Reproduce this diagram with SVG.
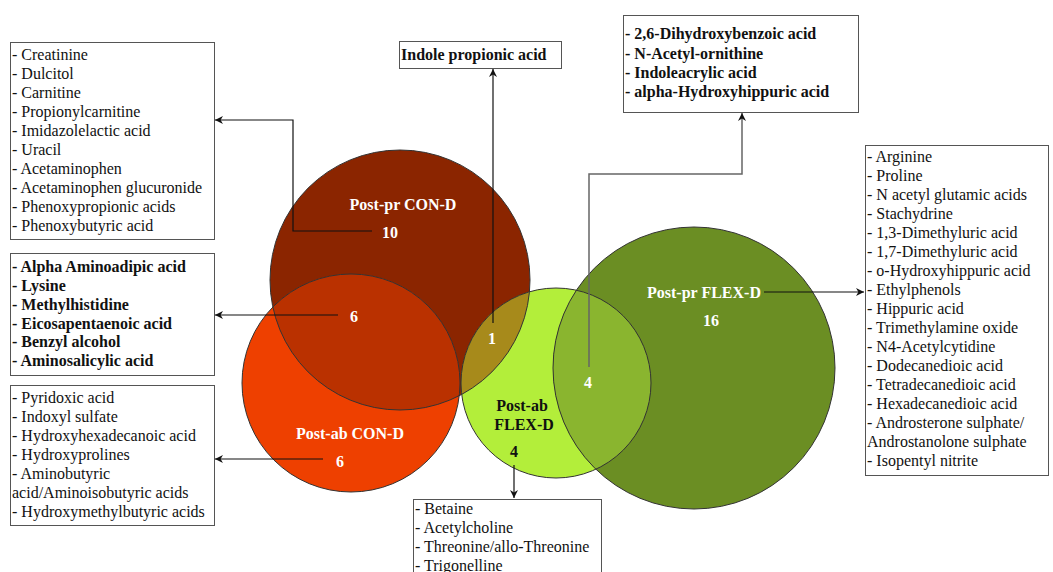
<svg xmlns="http://www.w3.org/2000/svg" width="1053" height="572" viewBox="0 0 1053 572">
<style>
.box{fill:#fff;stroke:#555;stroke-width:1}
.t{font-family:"Liberation Serif","Times New Roman",serif;font-size:16px;fill:#111}
.b{font-weight:bold}
.cl{font-family:"Liberation Serif","Times New Roman",serif;font-size:16px;font-weight:bold;fill:#fff;text-anchor:middle}
.ol{fill:none;stroke:#333;stroke-width:1}
.c{fill:none;stroke:#111;stroke-width:1.2}
.g{fill:none;stroke:#666;stroke-width:1.5}
</style>
<defs>
<marker id="ar" viewBox="0 0 10 10" refX="10" refY="5" markerWidth="8" markerHeight="8" markerUnits="userSpaceOnUse" orient="auto">
<path d="M0,0 L10,5 L0,10 L3,5 z" fill="#111"/>
</marker>
<clipPath id="cpOrange"><circle cx="351" cy="383" r="109"/></clipPath>
<clipPath id="cpLight"><circle cx="556" cy="383" r="95"/></clipPath>
</defs>
<rect width="1053" height="572" fill="#fff"/>

<g id="circles">
<g id="post-pr-con-d"><circle cx="400" cy="280" r="130" fill="#8B2500"/></g>
<g id="post-ab-con-d"><circle cx="351" cy="383" r="109" fill="#EE4000"/></g>
<circle cx="400" cy="280" r="130" fill="#BA3100" clip-path="url(#cpOrange)"/>
<g id="post-ab-flex-d"><circle cx="556" cy="383" r="95" fill="#B3EE3A"/></g>
<circle cx="400" cy="280" r="130" fill="#A78A1B" clip-path="url(#cpLight)"/>
<g id="post-pr-flex-d"><circle cx="694" cy="368" r="141" fill="#6B8E23"/></g>
<circle cx="694" cy="368" r="141" fill="#8AB52F" clip-path="url(#cpLight)"/>
<circle class="ol" cx="400" cy="280" r="130"/>
<circle class="ol" cx="351" cy="383" r="109"/>
<circle class="ol" cx="556" cy="383" r="95"/>
<circle class="ol" cx="694" cy="368" r="141"/>
</g>

<g id="connectors">
<path class="c" d="M372,231 H293 V120 H215" marker-end="url(#ar)"/>
<path class="c" d="M338,315 H215" marker-end="url(#ar)"/>
<path class="c" d="M323,459 H215" marker-end="url(#ar)"/>
<path class="c" d="M493,323 V69" marker-end="url(#ar)"/>
<path class="g" d="M589,367 V174 H742 V113" marker-end="url(#ar)"/>
<path class="c" d="M764,292 H864" marker-end="url(#ar)"/>
<path class="c" d="M514,465 V498" marker-end="url(#ar)"/>
</g>

<g id="circle-labels">
<text class="cl" x="403" y="210">Post-pr CON-D</text>
<text class="cl" x="390" y="238">10</text>
<text class="cl" x="354" y="322">6</text>
<text class="cl" x="492" y="344">1</text>
<text class="cl" x="350" y="439">Post-ab CON-D</text>
<text class="cl" x="340" y="467">6</text>
<text class="cl" x="522" y="411" fill="#111" style="fill:#111">Post-ab</text>
<text class="cl" x="524" y="430" style="fill:#111">FLEX-D</text>
<text class="cl" x="514" y="457" style="fill:#111">4</text>
<text class="cl" x="588" y="388">4</text>
<text class="cl" x="704" y="298">Post-pr FLEX-D</text>
<text class="cl" x="711" y="326">16</text>
</g>

<g id="box-con-pr">
<rect class="box" x="10.5" y="42.5" width="204" height="197"/>
<text class="t" x="12" y="60">- Creatinine</text>
<text class="t" x="12" y="79">- Dulcitol</text>
<text class="t" x="12" y="98">- Carnitine</text>
<text class="t" x="12" y="117">- Propionylcarnitine</text>
<text class="t" x="12" y="136">- Imidazolelactic acid</text>
<text class="t" x="12" y="155">- Uracil</text>
<text class="t" x="12" y="174">- Acetaminophen</text>
<text class="t" x="12" y="193">- Acetaminophen glucuronide</text>
<text class="t" x="12" y="212">- Phenoxypropionic acids</text>
<text class="t" x="12" y="231">- Phenoxybutyric acid</text>
</g>

<g id="box-con-shared">
<rect class="box" x="10.5" y="253.5" width="204" height="122"/>
<text class="t b" x="12" y="272">- Alpha Aminoadipic acid</text>
<text class="t b" x="12" y="291">- Lysine</text>
<text class="t b" x="12" y="310">- Methylhistidine</text>
<text class="t b" x="12" y="329">- Eicosapentaenoic acid</text>
<text class="t b" x="12" y="347">- Benzyl alcohol</text>
<text class="t b" x="12" y="366">- Aminosalicylic acid</text>
</g>

<g id="box-con-ab">
<rect class="box" x="10.5" y="385.5" width="204" height="140"/>
<text class="t" x="12" y="403">- Pyridoxic acid</text>
<text class="t" x="12" y="422">- Indoxyl sulfate</text>
<text class="t" x="12" y="441">- Hydroxyhexadecanoic acid</text>
<text class="t" x="12" y="460">- Hydroxyprolines</text>
<text class="t" x="12" y="479">- Aminobutyric</text>
<text class="t" x="12" y="498">acid/Aminoisobutyric acids</text>
<text class="t" x="12" y="517">- Hydroxymethylbutyric acids</text>
</g>

<g id="box-indole">
<rect class="box" x="399.5" y="41.5" width="162" height="27"/>
<text class="t b" x="401" y="60">Indole propionic acid</text>
</g>

<g id="box-flex-shared">
<rect class="box" x="623.5" y="15.5" width="235" height="97"/>
<text class="t b" x="625" y="39">- 2,6-Dihydroxybenzoic acid</text>
<text class="t b" x="625" y="59">- N-Acetyl-ornithine</text>
<text class="t b" x="625" y="78">- Indoleacrylic acid</text>
<text class="t b" x="625" y="97">- alpha-Hydroxyhippuric acid</text>
</g>

<g id="box-flex-pr">
<rect class="box" x="865.5" y="145.5" width="183" height="330"/>
<text class="t" x="867" y="162">- Arginine</text>
<text class="t" x="867" y="181">- Proline</text>
<text class="t" x="867" y="200">- N acetyl glutamic acids</text>
<text class="t" x="867" y="219">- Stachydrine</text>
<text class="t" x="867" y="238">- 1,3-Dimethyluric acid</text>
<text class="t" x="867" y="257">- 1,7-Dimethyluric acid</text>
<text class="t" x="867" y="276">- o-Hydroxyhippuric acid</text>
<text class="t" x="867" y="295">- Ethylphenols</text>
<text class="t" x="867" y="314">- Hippuric acid</text>
<text class="t" x="867" y="333">- Trimethylamine oxide</text>
<text class="t" x="867" y="352">- N4-Acetylcytidine</text>
<text class="t" x="867" y="371">- Dodecanedioic acid</text>
<text class="t" x="867" y="390">- Tetradecanedioic acid</text>
<text class="t" x="867" y="409">- Hexadecanedioic acid</text>
<text class="t" x="867" y="428">- Androsterone sulphate/</text>
<text class="t" x="867" y="447">Androstanolone sulphate</text>
<text class="t" x="867" y="466">- Isopentyl nitrite</text>
</g>

<g id="box-flex-ab">
<rect class="box" x="413.5" y="499.5" width="188" height="80"/>
<text class="t" x="415" y="514">- Betaine</text>
<text class="t" x="415" y="533">- Acetylcholine</text>
<text class="t" x="415" y="552">- Threonine/allo-Threonine</text>
<text class="t" x="415" y="571">- Trigonelline</text>
</g>
</svg>
